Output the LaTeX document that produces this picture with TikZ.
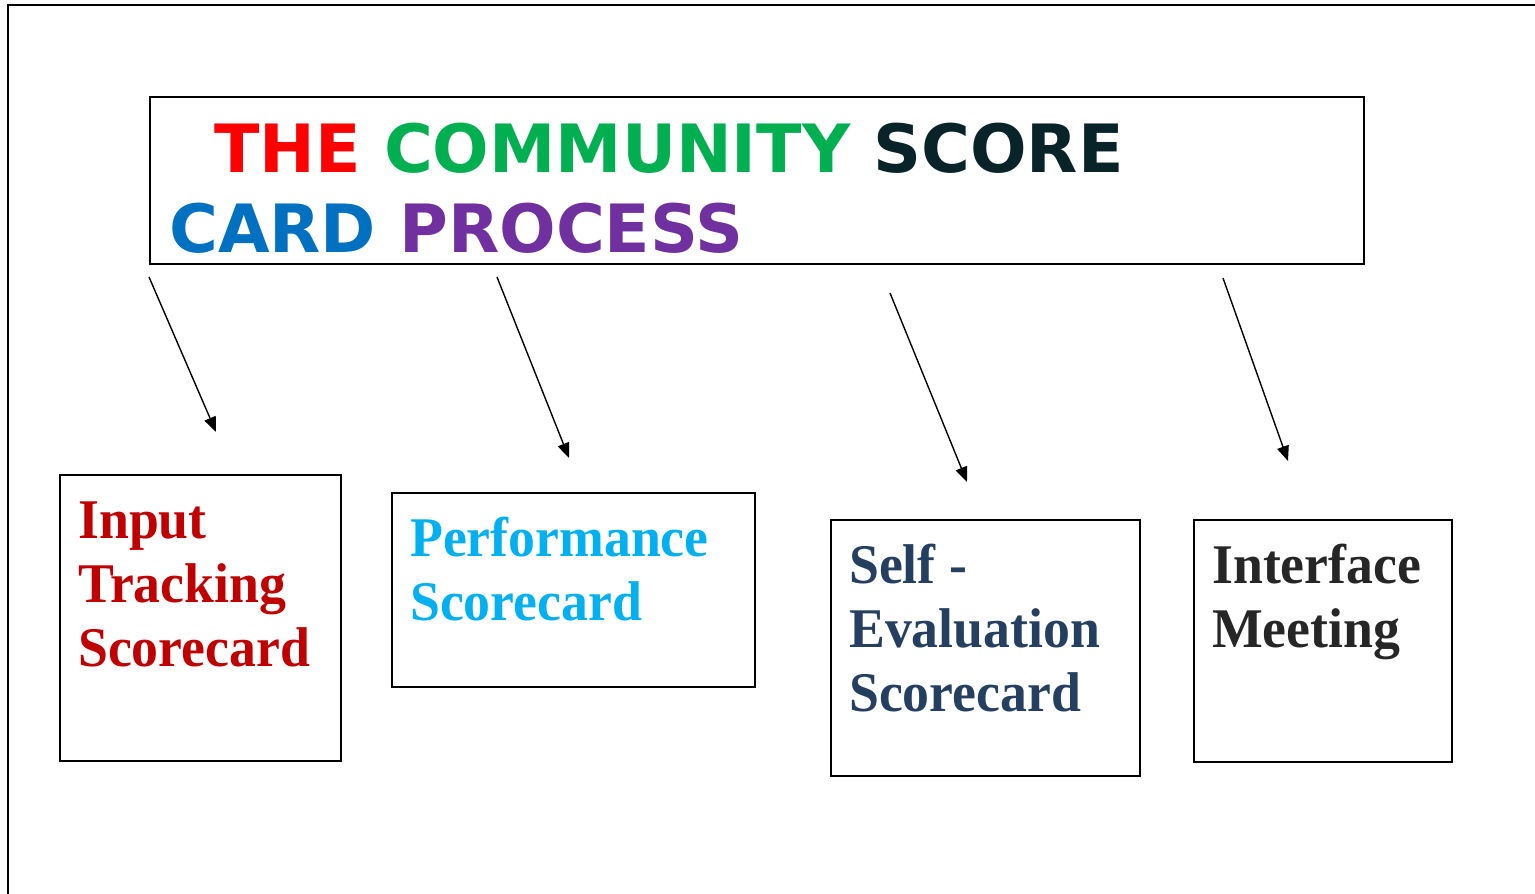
\documentclass[tikz,border=0pt]{standalone}
\usepackage{fontspec}
\usetikzlibrary{arrows.meta}
\newfontfamily\titlefont{DejaVu Sans}
\newfontfamily\cardfont[FakeStretch=0.96]{Liberation Serif}
\definecolor{thered}{HTML}{FF0000}
\definecolor{commgreen}{HTML}{00B050}
\definecolor{scoredark}{HTML}{082429}
\definecolor{cardblue}{HTML}{0070C0}
\definecolor{procpurple}{HTML}{7030A0}
\definecolor{inputred}{HTML}{C00000}
\definecolor{perfcyan}{HTML}{00B0F0}
\definecolor{selfnavy}{HTML}{243F60}
\definecolor{meetgray}{HTML}{262626}
\begin{document}
\begin{tikzpicture}[x=1pt,y=-1pt,
    box/.style={draw, line width=1.6pt, anchor=north west, inner sep=0pt},
    cardlabel/.style={anchor=north west, inner sep=0pt, align=left,
      font=\cardfont\bfseries\fontsize{56}{64}\selectfont},
    flow/.style={line width=1.4pt, -{Triangle[length=15pt,width=12pt]}}]
    \useasboundingbox (0,0) rectangle (1535,894);
    \draw[line width=1.8pt] (1535,5) -- (8,5) -- (8,894);
    \node[box, minimum width=1214pt, minimum height=167pt] (title) at (149,96) {};
    \node[anchor=north west, inner sep=0pt, align=left,
      font=\titlefont\bfseries\fontsize{66.6}{80}\selectfont] (title-text) at (169,123)
      {\hspace*{45pt}\textcolor{thered}{THE} \textcolor{commgreen}{COMMUNITY} \textcolor{scoredark}{SCORE}\\
       \textcolor{cardblue}{CARD} \textcolor{procpurple}{PROCESS}};
    \node[box, minimum width=281pt, minimum height=286pt] (input) at (59,474) {};
    \node[box, minimum width=363pt, minimum height=194pt] (perf) at (391,492) {};
    \node[box, minimum width=309pt, minimum height=256pt] (self) at (830,519) {};
    \node[box, minimum width=258pt, minimum height=242pt] (meet) at (1193,519) {};
    \node[cardlabel, text=inputred] (input-text) at (78,502) {Input\\Tracking\\Scorecard};
    \node[cardlabel, text=perfcyan] (perf-text) at (410,517) {Performance\\Scorecard};
    \node[cardlabel, text=selfnavy] (self-text) at (849,544) {Self -\\Evaluation\\Scorecard};
    \node[cardlabel, text=meetgray] (meet-text) at (1212,544) {Interface\\Meeting};
    \coordinate (input-tail) at (149,277);
    \coordinate (input-tip) at (216,432);
    \coordinate (perf-tail) at (497,277);
    \coordinate (perf-tip) at (569,458);
    \coordinate (self-tail) at (890,293);
    \coordinate (self-tip) at (967,482);
    \coordinate (meet-tail) at (1223,278);
    \coordinate (meet-tip) at (1288,461);
    \draw[flow] (input-tail) -- (input-tip);
    \draw[flow] (perf-tail) -- (perf-tip);
    \draw[flow] (self-tail) -- (self-tip);
    \draw[flow] (meet-tail) -- (meet-tip);
\end{tikzpicture}
\end{document}
